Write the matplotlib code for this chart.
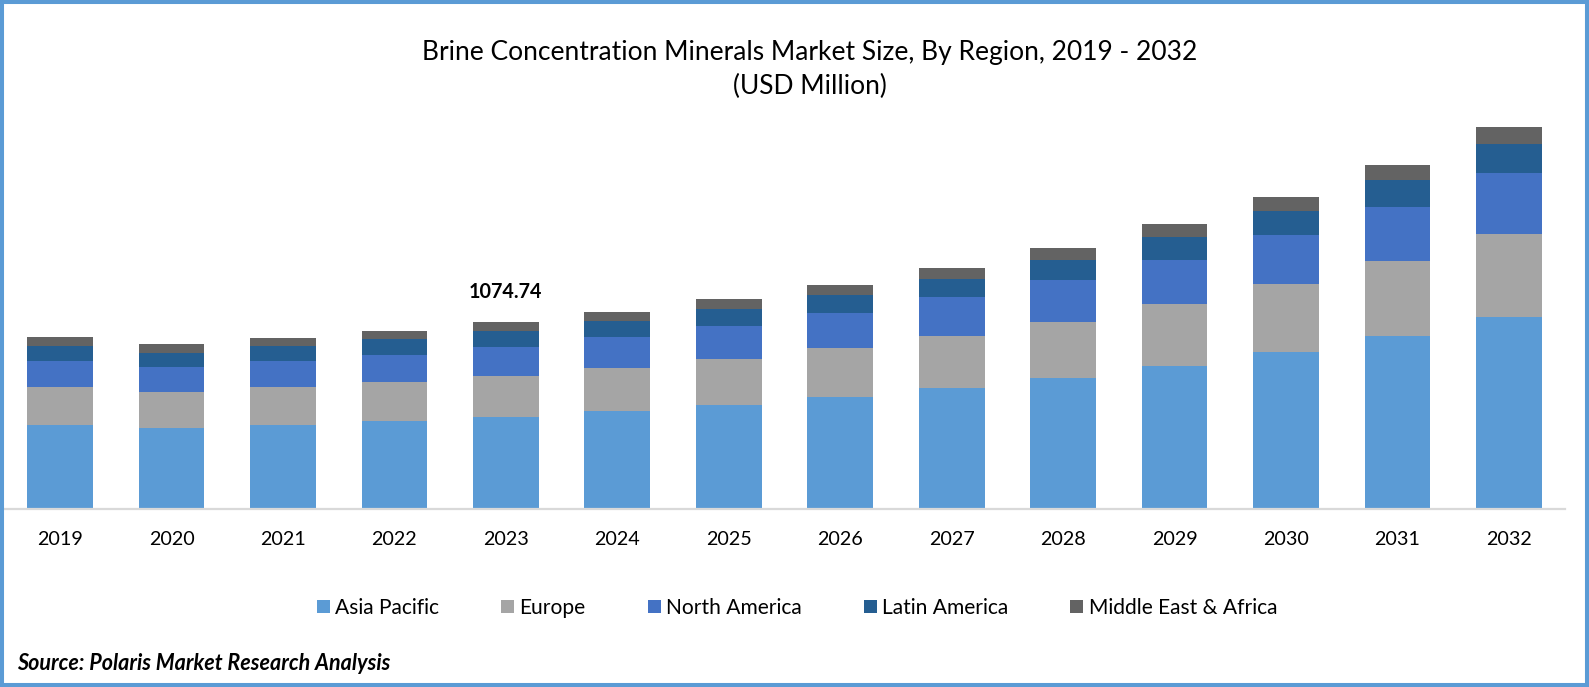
import matplotlib.pyplot as plt
from matplotlib.patches import Rectangle
import numpy as np

plt.rcParams["font.family"] = ["Lato", "DejaVu Sans"]

years = [str(y) for y in range(2019, 2033)]
asia_pacific = [479, 461, 479, 502, 525, 563, 598, 644, 693, 751, 822, 903, 994, 1104]
europe = [220, 208, 220, 226, 237, 247, 264, 282, 305, 328, 357, 392, 434, 480]
north_america = [150, 150, 150, 156, 168, 181, 193, 205, 224, 241, 255, 284, 313, 353]
latin_america = [87, 81, 87, 93, 93, 89, 95, 100, 106, 118, 133, 139, 156, 168]
middle_east = [52, 50, 46, 46, 52, 52, 58, 58, 64, 69, 75, 81, 87, 98]
labels = ["Asia Pacific", "Europe", "North America", "Latin America", "Middle East & Africa"]
colors = ["#5B9BD5", "#A5A5A5", "#4472C4", "#255E91", "#636363"]
title = "Brine Concentration Minerals Market Size, By Region, 2019 - 2032\n(USD Million)"

W, H = 1589, 687
fig = plt.figure(figsize=(W / 100, H / 100), dpi=100)
fig.patch.set_facecolor("white")

# axes placed in pixels, baseline at y=508
left, right, base, top = 4.3, 1564.7, 508, 110
ax = fig.add_axes([left / W, 1 - base / H, (right - left) / W, (base - top) / H])

x = np.arange(len(years))
bottom = np.zeros(len(years))
series = [asia_pacific, europe, north_america, latin_america, middle_east]
for values, label, color in zip(series, labels, colors):
    ax.bar(x, values, 0.59, bottom=bottom, label=label, color=color)
    bottom += np.array(values)

ax.set_xlim(-0.5, len(years) - 0.5)
ax.set_ylim(0, (base - top) * 1.9295 * 3)
ax.set_xticks(x, years)
ax.set_yticks([])
ax.tick_params(axis="x", length=0, pad=15.5, labelsize=14.2, labelcolor="black")
for side in ["top", "left", "right"]:
    ax.spines[side].set_visible(False)
ax.spines["bottom"].set_color("#D9D9D9")
ax.spines["bottom"].set_linewidth(1.6)
ax.spines["bottom"].set_position(("outward", 0.8))

ax.text(x[4], bottom[4] + 116, "1074.74", ha="center", va="bottom",
        fontsize=14.2, fontweight="bold", color="black")

fig.text(810 / W, 1 - 69.5 / H, title, ha="center", va="center", fontsize=19,
         color="black", linespacing=1.42)

fig.legend(loc="center", bbox_to_anchor=(797 / W, 1 - 608 / H), ncol=5, frameon=False,
           fontsize=15.1, handlelength=0.62, handleheight=0.62, handletextpad=0.26,
           columnspacing=2.95, labelcolor="black")

fig.text(17 / W, 1 - 663 / H, "Source: Polaris Market Research Analysis", ha="left",
         va="center", fontsize=15.5, fontweight="bold", fontstyle="italic", color="black")

# blue frame around the whole picture
fig.add_artist(Rectangle((0, 0), 1, 1, transform=fig.transFigure, fill=False,
                         edgecolor="#5B9BD5", linewidth=5.8))

fig.savefig("out.png", dpi=100)
plt.close()
